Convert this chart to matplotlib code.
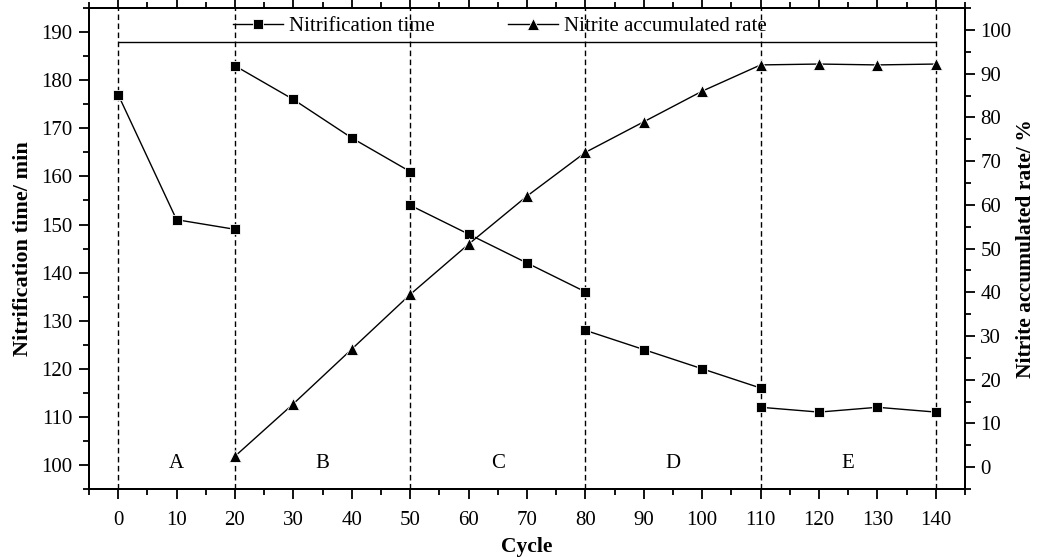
import matplotlib
matplotlib.use('Agg')
import matplotlib.pyplot as plt
from matplotlib.ticker import MultipleLocator

''' Data read from the figure '''
# nitrification time, one list per stage (the line breaks between stages)
cycle_A = [0, 10, 20]
time_A = [177, 151, 149]
cycle_B = [20, 30, 40, 50]
time_B = [183, 176, 168, 161]
cycle_C = [50, 60, 70, 80]
time_C = [154, 148, 142, 136]
cycle_D = [80, 90, 100, 110]
time_D = [128, 124, 120, 116]
cycle_E = [110, 120, 130, 140]
time_E = [112, 111, 112, 111]

# nitrite accumulated rate (%)
cycle_rate = [20, 30, 40, 50, 60, 70, 80, 90, 100, 110, 120, 130, 140]
rate = [2.5, 14.5, 27, 39.5, 51, 62, 72, 79, 86, 92, 92.2, 92, 92.2]

stage_bounds = [0, 20, 50, 80, 110, 140]
stage_names = ['A', 'B', 'C', 'D', 'E']
stage_centres = [10, 35, 65, 95, 125]

plt.rcParams['font.family'] = ['Liberation Serif', 'DejaVu Serif']
plt.rcParams['font.size'] = 15

fig = plt.figure(figsize=(10.38, 5.57), dpi=100)
ax = fig.add_axes([0.0857, 0.122, 0.844, 0.8635])
ax2 = ax.twinx()

''' Stage boundaries and labels '''
for xb in stage_bounds:
    ax.axvline(xb, color='black', lw=1.0, ls=(0, (4, 2.5)), zorder=1)
for xc, nm in zip(stage_centres, stage_names):
    ax.text(xc, 100.3, nm, ha='center', va='center', fontsize=15)
ax.hlines(188, stage_bounds[0], stage_bounds[-1], color='black', lw=1.0)

''' Nitrification time '''
mk = dict(color='black', lw=1.0, marker='s', markersize=7.5,
          markeredgecolor='white', markeredgewidth=0.6, zorder=3)
l1, = ax.plot(cycle_A, time_A, **mk)
ax.plot(cycle_B, time_B, **mk)
ax.plot(cycle_C, time_C, **mk)
ax.plot(cycle_D, time_D, **mk)
ax.plot(cycle_E, time_E, **mk)

''' Nitrite accumulated rate '''
l2, = ax2.plot(cycle_rate, rate, color='black', lw=1.0, marker='^', markersize=9,
               markeredgecolor='white', markeredgewidth=0.6, zorder=3)

ax.set_xlim(-5, 145)
ax.set_ylim(95, 195)
ax2.set_ylim(-5, 105)

ax.xaxis.set_major_locator(MultipleLocator(10))
ax.xaxis.set_minor_locator(MultipleLocator(5))
ax.yaxis.set_minor_locator(MultipleLocator(5))
ax2.yaxis.set_minor_locator(MultipleLocator(5))
ax.set_yticks(range(100, 191, 10))
ax2.set_yticks(range(0, 101, 10))

ax.tick_params(axis='x', which='both', direction='out', top=True, width=1.3)
ax.tick_params(axis='y', which='both', direction='out', width=1.3)
ax.tick_params(which='major', length=7, labelsize=15)
ax.tick_params(which='minor', length=4)
ax.tick_params(axis='x', which='major', pad=9)
ax.tick_params(axis='y', which='major', pad=5)
ax2.tick_params(which='both', direction='out', width=1.3)
ax2.tick_params(which='major', length=7, labelsize=15, pad=4)
ax2.tick_params(which='minor', length=4)
for a in (ax, ax2):
    for s in a.spines.values():
        s.set_linewidth(1.4)

ax.set_xlabel('Cycle', fontweight='bold', fontsize=15.5)
ax.set_ylabel('Nitrification time/ min', fontweight='bold', fontsize=16, labelpad=6)
ax2.set_ylabel('Nitrite accumulated rate/ %', fontweight='bold', fontsize=15.5, labelpad=3)
ax.xaxis.set_label_coords(0.5, -0.1)

ax2.legend([l1, l2], ['Nitrification time', 'Nitrite accumulated rate'],
           loc='center', bbox_to_anchor=(0.469, 0.962), ncol=2, frameon=False,
           handlelength=2.4, handletextpad=0.3, columnspacing=3.5, fontsize=15,
           borderpad=0, borderaxespad=0)

fig.savefig('out.png', dpi=100)
